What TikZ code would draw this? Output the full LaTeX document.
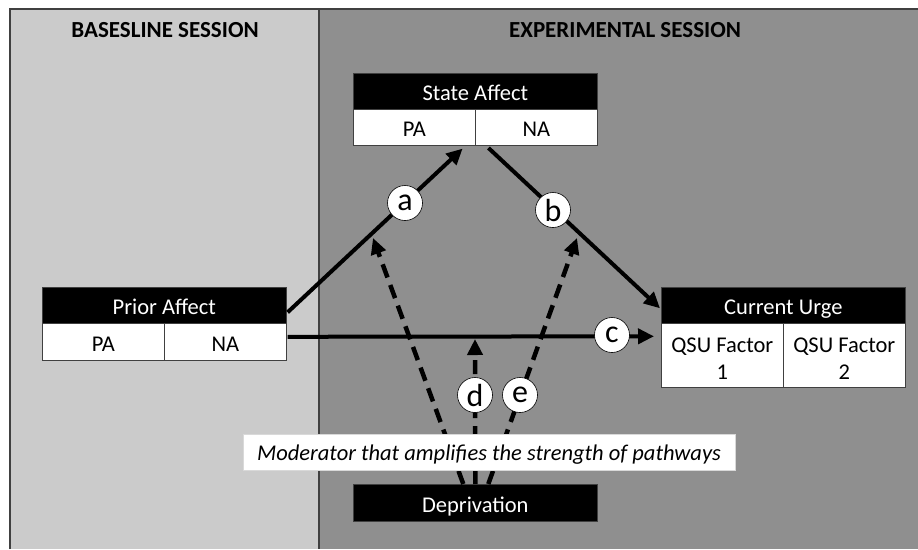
\documentclass[tikz,border=0pt]{standalone}
\usepackage{fontspec}
\setmainfont{Carlito}
\usetikzlibrary{arrows.meta,calc}
\definecolor{lgray}{HTML}{CBCBCB}
\definecolor{dgray}{HTML}{8F8F8F}
\definecolor{bordc}{HTML}{404040}
\begin{document}
\begin{tikzpicture}[x=1pt,y=-1pt,
  hdr/.style={fill=black,draw=bordc,line width=0.6pt,text=white,inner sep=0pt,anchor=north west,font=\fontsize{22.5}{26}\selectfont,text height=20pt,text depth=1pt},
  cell/.style={fill=white,draw=bordc,line width=0.6pt,text=black,inner sep=0pt,anchor=north west,font=\fontsize{22.5}{27}\selectfont,text height=20pt,text depth=1pt},
  cell2/.style={fill=white,draw=bordc,line width=0.6pt,text=black,inner sep=0pt,anchor=north west,font=\fontsize{22.5}{27}\selectfont,text height=15pt,text depth=21pt},
  sess/.style={font=\bfseries\fontsize{23}{26}\selectfont},
  lbl/.style={circle,fill=white,draw=black,line width=0.6pt,inner sep=0pt,minimum size=35pt,font=\fontsize{32}{32}\selectfont},
  solidarr/.style={line width=4pt,-{Triangle[length=16pt,width=15pt]}},
  dasharr/.style={line width=4.5pt,dash pattern=on 14pt off 8pt,-{Triangle[length=16pt,width=15pt]}}
]
\useasboundingbox (0,0) rectangle (918,549);
\fill[white] (0,0) rectangle (918,549);
\fill[lgray] (10,9) rectangle (319,549);
\fill[dgray] (319,9) rectangle (918,549);
\draw[bordc,line width=1.5pt] (10,549) -- (10,9) -- (918,9);
\draw[bordc,line width=1.5pt] (319,9) -- (319,549);

\node[sess] (basel) at (165,30) {BASESLINE SESSION};
\node[sess] (expl) at (625,30) {EXPERIMENTAL SESSION};

% State Affect
\node[hdr,minimum width=244,minimum height=36] (saH) at (353,73) {State Affect};
\node[cell,minimum width=122,minimum height=36] (saPA) at (353,109) {PA};
\node[cell,minimum width=122,minimum height=36] (saNA) at (475,109) {NA};
% Prior Affect
\node[hdr,minimum width=244,minimum height=36] (paH) at (42,287) {Prior Affect};
\node[cell,minimum width=122,minimum height=37] (paPA) at (42,323) {PA};
\node[cell,minimum width=122,minimum height=37] (paNA) at (164,323) {NA};
% Current Urge
\node[hdr,minimum width=244,minimum height=36] (cuH) at (661,287) {Current Urge};
\node[cell2,minimum width=122,minimum height=64] (cuF1) at (661,323) {\parbox[t]{120pt}{\centering QSU Factor\\1}};
\node[cell2,minimum width=122,minimum height=64] (cuF2) at (783,323) {\parbox[t]{120pt}{\centering QSU Factor\\2}};
% Deprivation
\node[hdr,minimum width=244,minimum height=37] (dep) at (353,484) {Deprivation};

% end points of the moderating arrows
\coordinate (aMid) at (373,238);
\coordinate (bMid) at (577,238);
\coordinate (cMid) at (475,339);

% solid pathways
\draw[solidarr] ($(paH.east)+(1,7)$) -- ($(saPA.south east)+(-13,3)$);
\draw[solidarr,shorten <=2pt] ($(saNA.south west)+(12,1)$) -- ($(cuH.west)+(-1,3)$);
\draw[solidarr] ($(paNA.east)+(1,-5)$) -- ($(cuF1.west)+(-7,-19)$);

% dashed moderators
\draw[dasharr] ($(dep.north)+(-12,0)$) -- (aMid);
\draw[dasharr] ($(dep.north)+(13,0)$) -- (bMid);
\draw[dasharr] (dep.north) -- (cMid);

% moderator caption
\node[fill=white,draw=white!85!black,line width=0.4pt,minimum width=492,minimum height=36,inner sep=0pt,font=\itshape\fontsize{22.5}{26}\selectfont,text height=17pt,text depth=1pt] (mod) at (489,452) {Moderator that amplifies the strength of pathways};

% labels
\node[lbl] (la) at (405,203) {a};
\node[lbl] (lb) at (553,210) {b};
\node[lbl] (lc) at (612,335) {c};
\node[lbl] (ld) at (475,395) {d};
\node[lbl] (le) at (520,395) {e};
\end{tikzpicture}
\end{document}
